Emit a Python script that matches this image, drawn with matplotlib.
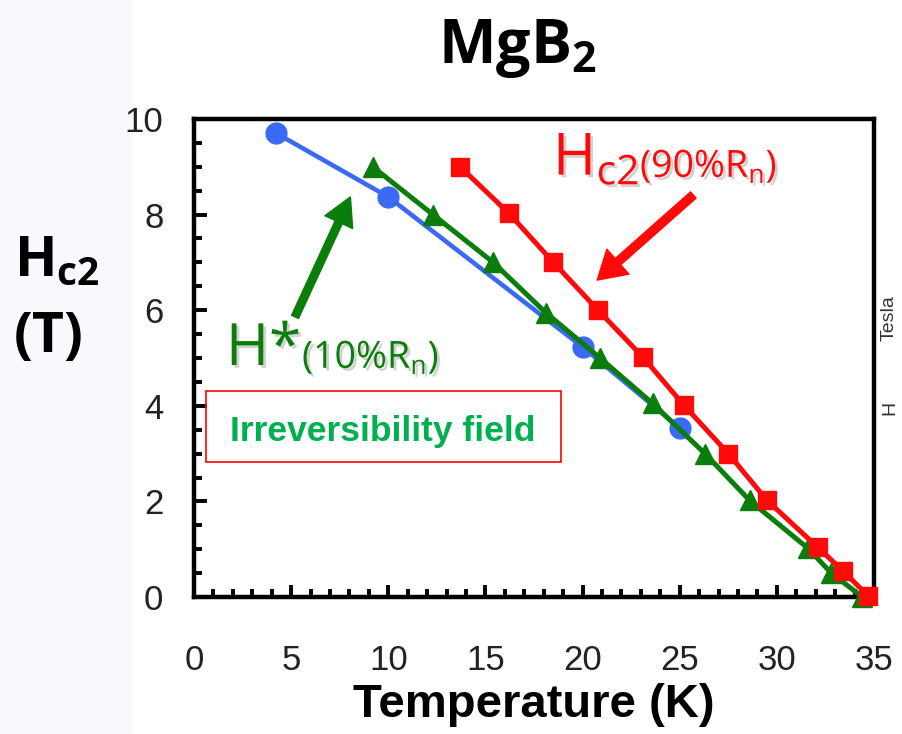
import matplotlib
matplotlib.use("Agg")
import matplotlib.pyplot as plt
import matplotlib.patheffects as pe
from matplotlib.patches import Rectangle
from matplotlib.ticker import MultipleLocator

# data
blue_T = [4.2, 10.0, 20.0, 25.0]
blue_H = [9.71, 8.37, 5.23, 3.54]

green_T = [9.2, 12.3, 15.4, 18.1, 20.9, 23.6, 26.3, 28.6, 31.6, 32.8, 34.4]
green_H = [9.0, 8.0, 7.0, 5.95, 5.0, 4.05, 3.0, 2.02, 1.02, 0.5, 0.0]

red_T = [13.7, 16.2, 18.5, 20.8, 23.1, 25.2, 27.5, 29.5, 32.1, 33.4, 34.7]
red_H = [9.0, 8.03, 7.0, 6.0, 5.02, 4.02, 3.0, 2.02, 1.04, 0.55, 0.02]

xticks = [0, 5, 10, 15, 20, 25, 30, 35]
yticks = [0, 2, 4, 6, 8, 10]

W, H = 902, 734


def px(x, y):
    return x / W, 1 - y / H


fig = plt.figure(figsize=(W / 100, H / 100), dpi=100)
fig.patches.append(Rectangle((0, 0), 130 / W, 1, transform=fig.transFigure,
                             color="#f7f9fd", zorder=-10))

ax = fig.add_axes([194 / W, 1 - 597 / H, 680 / W, 478 / H])

ax.plot(blue_T, blue_H, color="#3a6af5", lw=3.3, marker="o", ms=15, zorder=3)
ax.plot(green_T, green_H, color="#0a7d0a", lw=3.6, marker="^", ms=15,
        zorder=4, clip_on=False)
ax.plot(red_T, red_H, color="#ff0a0a", lw=3.6, marker="s", ms=13,
        zorder=5, clip_on=False)

ax.set_xlim(0, 35)
ax.set_ylim(0, 10)
ax.set_xticks(xticks)
ax.set_yticks(yticks)
ax.xaxis.set_minor_locator(MultipleLocator(1))
ax.yaxis.set_minor_locator(MultipleLocator(0.5))
ax.tick_params(which="both", direction="in", width=2.8, colors="black",
               labelcolor="#222222", labelsize=25, top=False, right=False)
ax.tick_params(which="major", length=9)
ax.tick_params(which="minor", length=6)
ax.tick_params(axis="x", pad=34)
ax.tick_params(axis="y", pad=22)
for lab in ax.get_xticklabels() + ax.get_yticklabels():
    lab.set_family("Liberation Sans")
for s in ax.spines.values():
    s.set_linewidth(3.2)

ax.set_xlabel("Temperature (K)", family="Liberation Sans", weight="bold",
              fontsize=34, labelpad=4)

# annotations
shadow = [pe.withSimplePatchShadow(offset=(2, -2), shadow_rgbFace="gray",
                                   alpha=0.35)]
fig.text(*px(553, 175), r"H$_\mathregular{c2}$", color="#ff0a0a",
         family="Open Sans", fontsize=42, va="baseline", path_effects=shadow)
fig.text(*px(640, 177), r"(90%R$_\mathregular{n}$)", color="#ff0a0a",
         family="Open Sans", fontsize=27, va="baseline", path_effects=shadow)

fig.text(*px(226, 365), "H*", color="#0a7d0a", family="Open Sans",
         fontsize=42, va="baseline", path_effects=shadow)
fig.text(*px(302, 368), r"(10%R$_\mathregular{n}$)", color="#0a7d0a",
         family="Open Sans", fontsize=27, va="baseline", path_effects=shadow)

arrow_red = dict(arrowstyle="simple,head_width=24,head_length=20,tail_width=6",
                 color="#ff0a0a", mutation_scale=1, shrinkA=0, shrinkB=0)
ax.annotate("", xy=(20.75, 6.63), xytext=(25.7, 8.41), arrowprops=arrow_red)
arrow_green = dict(arrowstyle="simple,head_width=22,head_length=20,tail_width=5.5",
                   color="#0a7d0a", mutation_scale=1, shrinkA=0, shrinkB=0)
ax.annotate("", xy=(8.05, 8.37), xytext=(5.2, 5.86), arrowprops=arrow_green)

box_l, box_t = px(206, 391)
box_r, box_b = px(561, 462)
fig.patches.append(Rectangle((box_l, box_b), box_r - box_l, box_t - box_b,
                             transform=fig.transFigure, fill=False,
                             edgecolor="#ff0000", lw=1.2, zorder=6))
fig.text(*px(383, 441), "Irreversibility field", color="#00b050",
         family="Liberation Sans", weight="bold",
         fontsize=25.5, ha="center", va="baseline", zorder=7)

# title and side label
fig.text(*px(517, 63), r"MgB$_\mathregular{2}$", family="Open Sans",
         weight="bold", fontsize=44, ha="center", va="baseline")
fig.text(*px(14, 276), r"H$_\mathregular{c2}$", family="Open Sans",
         weight="bold", fontsize=40, va="baseline")
fig.text(*px(14, 352), "(T)", family="Open Sans", weight="bold",
         fontsize=40, va="baseline")

# faint label at the right edge
fig.text(*px(881, 318), "Tesla", family="Liberation Sans", fontsize=14,
         color="#333333", rotation=90, ha="left", va="center")
fig.text(*px(881, 408), "H", family="Liberation Sans", fontsize=14,
         color="#333333", rotation=90, ha="left", va="center")

fig.savefig("out.png", dpi=100)
